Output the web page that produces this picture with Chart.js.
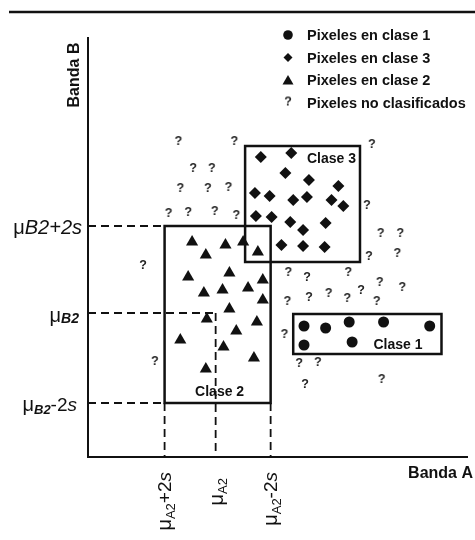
<!DOCTYPE html>
<html>
<head>
<meta charset="utf-8">
<script src="https://cdn.jsdelivr.net/npm/chart.js@4.4.1/dist/chart.umd.min.js"></script>
<style>
  html,body{margin:0;padding:0;background:#fff;}
  canvas{display:block;}
</style>
</head>
<body>
<canvas id="espacio" width="475" height="540"></canvas>
<script>
const clase1A = [220, 242, 266, 301, 348, 220, 269];
const clase1B = [131, 129, 135, 135, 131, 112, 115];

const clase3A = [176, 207, 201, 225, 255, 170, 185, 209, 223, 248, 260, 171, 187, 206, 219, 242, 197, 219, 241];
const clase3B = [300, 304, 284, 277, 271, 264, 261, 257, 260, 257, 251, 241, 240, 235, 227, 234, 212, 211, 210];

const clase2A = [106, 120, 140, 158, 173, 102, 144, 178, 118, 137, 163, 178, 144, 121, 172, 151, 94, 138, 169, 120];
const clase2B = [215, 202, 212, 215, 205, 180, 184, 177, 164, 167, 169, 157, 148, 138, 135, 126, 117, 110, 99, 88];

const noClasA = [92, 149, 289, 107, 126, 94, 122, 143, 82, 102, 129, 151, 284, 298, 318, 286, 315, 56, 204, 223, 265, 297, 320, 203, 225, 245, 264, 278, 294, 200, 68, 215, 234, 221, 299];
const noClasB = [315, 315, 312, 288, 288, 268, 268, 269, 243, 244, 245, 241, 251, 223, 223, 200, 203, 191, 184, 179, 184, 174, 169, 155, 159, 163, 158, 166, 155, 122, 95, 93, 94, 72, 77];

// estadisticas de la clase 2 (paralelepipedo)
const muA2 = 130, muB2 = 144;
const limA2 = [78, 186];   // μA2+2s , μA2-2s (rotulos como en el original)
const limB2 = [54, 231];   // μB2-2s , μB2+2s
// cajas de las otras clases: [Amin, Amax, Bmin, Bmax]
const cajaClase1 = [209, 360, 103, 143];
const cajaClase3 = [160, 277, 195, 311];

const rangoA = [0, 387], rangoB = [0, 420];
const leyenda = ['Pixeles en clase 1', 'Pixeles en clase 3', 'Pixeles en clase 2', 'Pixeles no clasificados'];

const FONT = "'Liberation Sans', Arial, sans-serif";
const NEGRO = '#111';

const pts = (xs, ys) => xs.map((x, i) => ({x, y: ys[i]}));

// "?" como estilo de punto
function signoPregunta(){
  const c = document.createElement('canvas');
  c.width = 10; c.height = 14;
  const g = c.getContext('2d');
  g.font = 'bold 12.5px ' + FONT;
  g.fillStyle = '#222';
  g.textAlign = 'center'; g.textBaseline = 'middle';
  g.fillText('?', 5, 7);
  return c;
}
const preg = signoPregunta();

// texto con trozos (sub/superindices, cursivas)
function runs(ctx, parts, x, y, alignRight){
  let w = 0;
  parts.forEach(p => { ctx.font = p.f; p.w = ctx.measureText(p.t).width; w += p.w; });
  let cx = alignRight ? x - w : x;
  parts.forEach(p => { ctx.font = p.f; ctx.fillText(p.t, cx, y + (p.dy || 0)); cx += p.w; });
}

function linea(ctx, x1, y1, x2, y2, w, dash){
  ctx.save();
  ctx.strokeStyle = NEGRO; ctx.lineWidth = w; ctx.setLineDash(dash || []);
  ctx.beginPath(); ctx.moveTo(x1, y1); ctx.lineTo(x2, y2); ctx.stroke();
  ctx.restore();
}

function marca(ctx, tipo, x, y){
  ctx.save();
  ctx.fillStyle = NEGRO;
  ctx.beginPath();
  if (tipo === 'circle'){ ctx.arc(x, y, 4.8, 0, Math.PI*2); ctx.fill(); }
  else if (tipo === 'rectRot'){ ctx.moveTo(x-4.5, y); ctx.lineTo(x, y-4.5); ctx.lineTo(x+4.5, y); ctx.lineTo(x, y+4.5); ctx.closePath(); ctx.fill(); }
  else if (tipo === 'triangle'){ ctx.moveTo(x-5.5, y+4.5); ctx.lineTo(x, y-5); ctx.lineTo(x+5.5, y+4.5); ctx.closePath(); ctx.fill(); }
  else { ctx.drawImage(preg, x-5, y-7); }
  ctx.restore();
}

const dibujo = {
  id: 'dibujo',
  beforeDatasetsDraw(chart){
    const {ctx, scales:{x: sx, y: sy}, chartArea: ca} = chart;
    const X = v => sx.getPixelForValue(v), Y = v => sy.getPixelForValue(v);
    const d = [8, 5];

    // linea superior
    linea(ctx, 9, 12, 475, 12, 2.5);

    // ejes
    linea(ctx, X(0), ca.top, X(0), Y(0) + 1, 2);
    linea(ctx, X(0), Y(0), ca.right, Y(0), 2);

    // lineas discontinuas de la clase 2
    linea(ctx, X(0), Y(limB2[1]), X(limA2[0]), Y(limB2[1]), 1.8, d);
    linea(ctx, X(0), Y(limB2[0]), X(limA2[0]), Y(limB2[0]), 1.8, d);
    linea(ctx, X(0), Y(muB2), X(muA2), Y(muB2), 1.8, d);
    linea(ctx, X(muA2), Y(muB2), X(muA2), Y(0), 1.8, d);
    linea(ctx, X(limA2[0]), Y(limB2[0]), X(limA2[0]), Y(0), 1.8, d);
    linea(ctx, X(limA2[1]), Y(limB2[0]), X(limA2[1]), Y(0), 1.8, d);

    // cajas
    const caja = (a0, a1, b0, b1) => {
      ctx.save(); ctx.strokeStyle = NEGRO; ctx.lineWidth = 2.5;
      ctx.strokeRect(X(a0), Y(b1), X(a1) - X(a0), Y(b0) - Y(b1));
      ctx.restore();
    };
    caja(limA2[0], limA2[1], limB2[0], limB2[1]);
    caja(...cajaClase3);
    caja(...cajaClase1);
  },
  afterDatasetsDraw(chart){
    const {ctx, scales:{x: sx, y: sy}} = chart;
    const X = v => sx.getPixelForValue(v), Y = v => sy.getPixelForValue(v);
    ctx.save();
    ctx.fillStyle = NEGRO;

    // nombres de clase
    ctx.font = 'bold 14px ' + FONT; ctx.textBaseline = 'middle';
    ctx.textAlign = 'right';
    ctx.fillText('Clase 3', X(cajaClase3[1]) - 4, Y(cajaClase3[3]) + 13);
    ctx.fillText('Clase 1', X(cajaClase1[1]) - 19, Y(cajaClase1[2]) - 9);
    ctx.textAlign = 'center';
    ctx.fillText('Clase 2', (X(limA2[0]) + X(limA2[1])) / 2 + 2, Y(limB2[0]) - 11);

    // rotulos del eje B
    ctx.textAlign = 'left'; ctx.textBaseline = 'alphabetic';
    const mu = '20px ' + FONT;
    runs(ctx, [{t:'μ', f:mu}, {t:'B2+2s', f:'italic 20px ' + FONT}], 82, Y(limB2[1]) + 8, true);
    runs(ctx, [{t:'μ', f:mu}, {t:'B2', f:'italic bold 14px ' + FONT, dy:1}], 79, Y(muB2) + 9, true);
    runs(ctx, [{t:'μ', f:mu}, {t:'B2', f:'italic bold 13px ' + FONT, dy:3}, {t:'-2', f:'19px ' + FONT}, {t:'s', f:'italic 19px ' + FONT}], 77, Y(limB2[0]) + 8, true);

    // rotulos del eje A (girados)
    const rot = (x, parts) => {
      ctx.save(); ctx.translate(x + 7, 472); ctx.rotate(-Math.PI/2);
      runs(ctx, parts, 0, 0, true); ctx.restore();
    };
    rot(X(limA2[0]) - 1, [{t:'μ', f:mu}, {t:'A2', f:'13px ' + FONT, dy:4}, {t:'+2', f:'19px ' + FONT}, {t:'s', f:'italic 19px ' + FONT}]);
    ctx.save(); ctx.translate(X(muA2) + 7, 478); ctx.rotate(-Math.PI/2);
    runs(ctx, [{t:'μ', f:mu}, {t:'A2', f:'13px ' + FONT, dy:4}], 0, 0, true); ctx.restore();
    rot(X(limA2[1]) - 1, [{t:'μ', f:mu}, {t:'A2', f:'13px ' + FONT, dy:4}, {t:'-2', f:'19px ' + FONT}, {t:'s', f:'italic 19px ' + FONT}]);

    // titulos de ejes
    ctx.font = 'bold 16px ' + FONT; ctx.textBaseline = 'middle';
    ctx.textAlign = 'right';
    ctx.fillText('Banda A', 473, 474);
    ctx.save(); ctx.translate(75, 75); ctx.rotate(-Math.PI/2);
    ctx.textAlign = 'center'; ctx.fillText('Banda B', 0, 0); ctx.restore();

    // leyenda
    const tipos = ['circle', 'rectRot', 'triangle', 'preg'];
    ctx.font = 'bold 14.5px ' + FONT; ctx.textAlign = 'left'; ctx.textBaseline = 'middle';
    leyenda.forEach((t, i) => {
      const yy = 35 + i * 22.5;
      marca(ctx, tipos[i], 288, yy);
      ctx.fillStyle = NEGRO;
      ctx.fillText(t, 307, yy + 1);
    });
    ctx.restore();
  }
};

new Chart(document.getElementById('espacio'), {
  type: 'scatter',
  data: {
    datasets: [
      {label: leyenda[0], data: pts(clase1A, clase1B), pointStyle: 'circle', pointRadius: 5.5, backgroundColor: NEGRO, borderColor: NEGRO, borderWidth: 0},
      {label: leyenda[1], data: pts(clase3A, clase3B), pointStyle: 'rectRot', pointRadius: 6, backgroundColor: NEGRO, borderColor: NEGRO, borderWidth: 0},
      {label: leyenda[2], data: pts(clase2A, clase2B), pointStyle: 'triangle', pointRadius: 7, backgroundColor: NEGRO, borderColor: NEGRO, borderWidth: 0},
      {label: leyenda[3], data: pts(noClasA, noClasB), pointStyle: preg, pointRadius: 6}
    ]
  },
  options: {
    responsive: false,
    animation: false,
    layout: {padding: {left: 88, right: 0, top: 37, bottom: 83}},
    scales: {
      x: {type: 'linear', min: rangoA[0], max: rangoA[1], display: false},
      y: {type: 'linear', min: rangoB[0], max: rangoB[1], display: false}
    },
    plugins: {legend: {display: false}, tooltip: {enabled: false}},
    elements: {point: {hoverRadius: 0}}
  },
  plugins: [dibujo]
});
</script>
</body>
</html>
